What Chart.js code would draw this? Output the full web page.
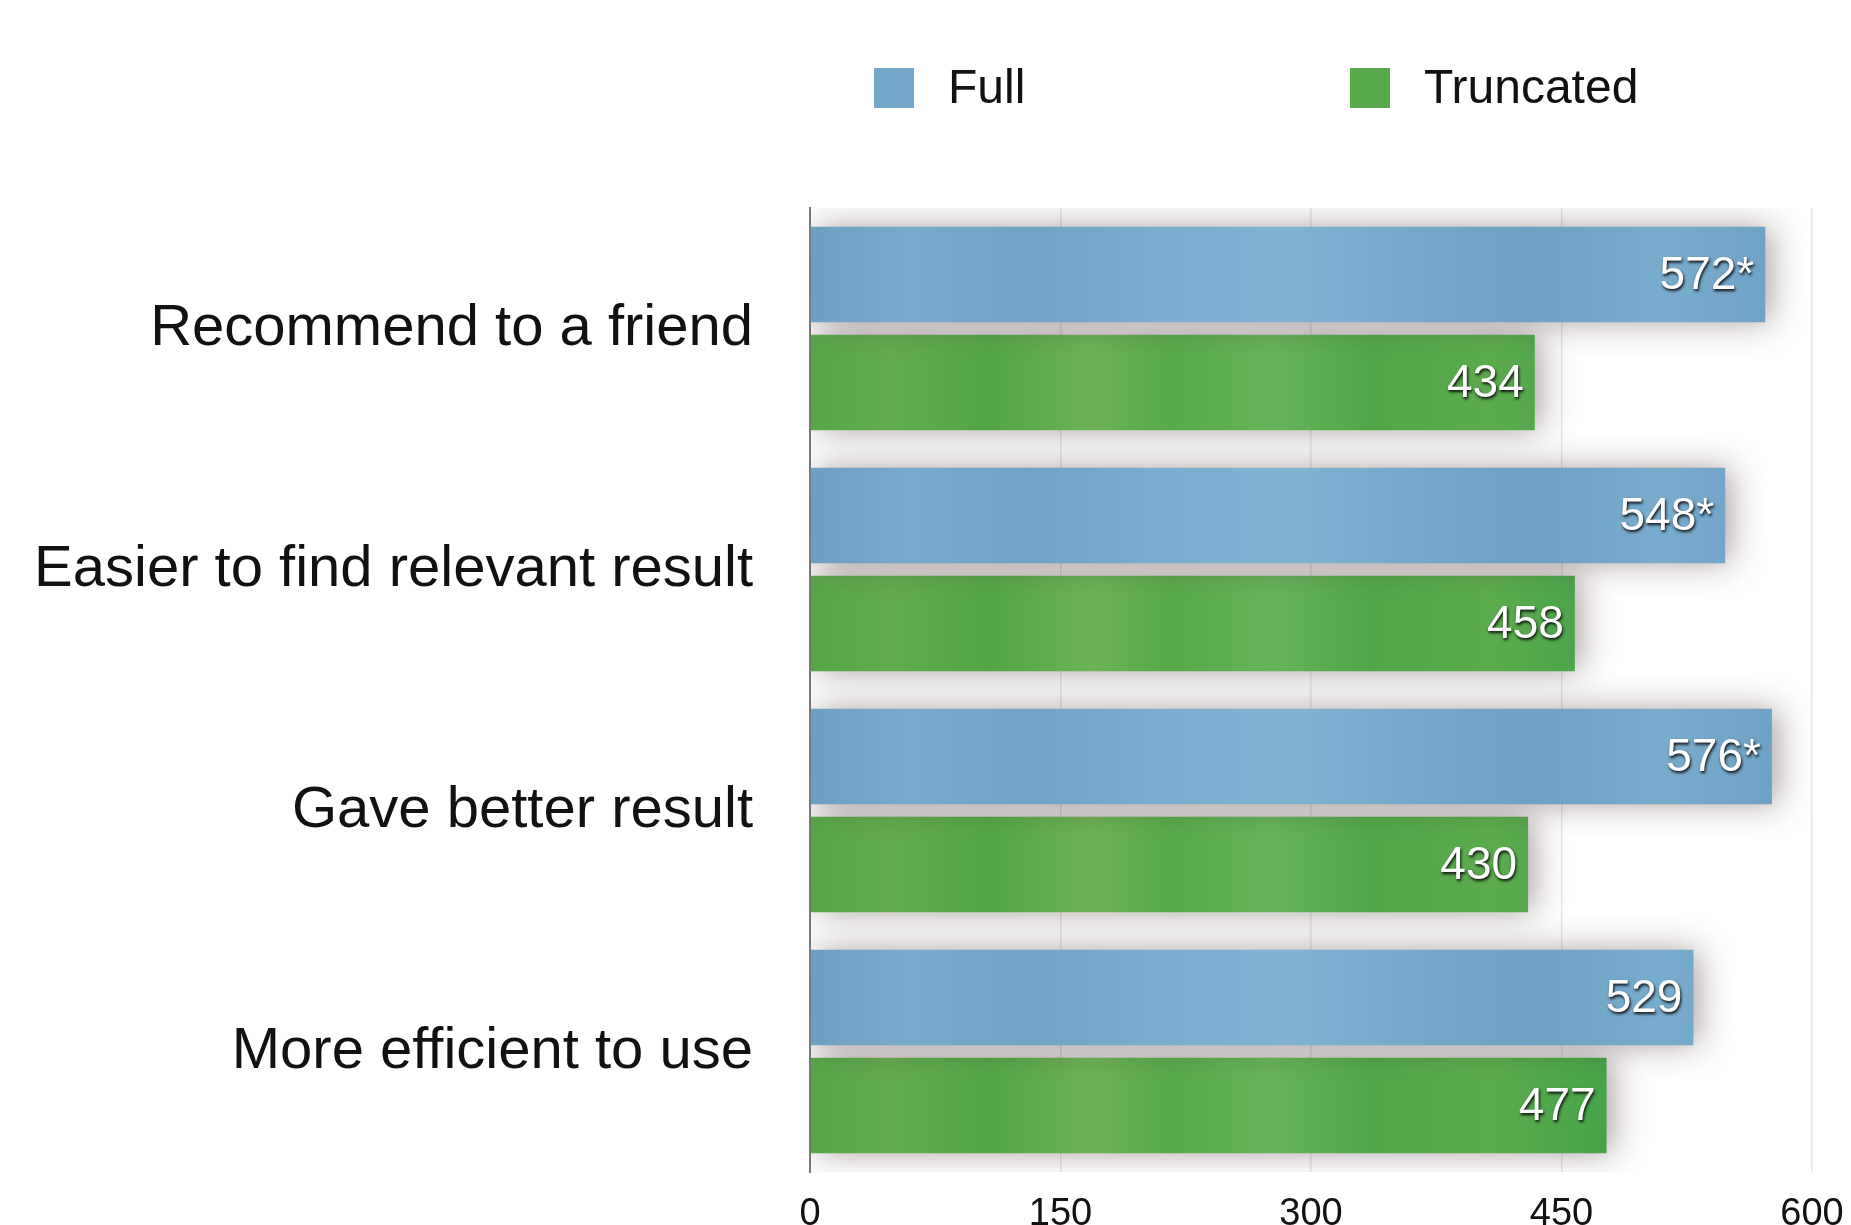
<!DOCTYPE html>
<html lang="en">
<head>
  <meta charset="UTF-8">
  <title>Full vs Truncated</title>
  <script src="https://cdn.jsdelivr.net/npm/chart.js"></script>
  <style>
    html, body {
      margin: 0;
      padding: 0;
      background: #ffffff;
      overflow: hidden;
    }
    canvas {
      display: block;
    }
  </style>
</head>
<body>
  <canvas id="myChart" width="1851" height="1225"></canvas>

  <script>
    const categories = ['Recommend to a friend', 'Easier to find relevant result', 'Gave better result', 'More efficient to use'];
    const seriesNames = ['Full', 'Truncated'];
    const fullValues = [572, 548, 576, 529];
    const truncatedValues = [434, 458, 430, 477];
    const fullMarks = ['*', '*', '*', ''];
    const truncatedMarks = ['', '', '', ''];
    const xTicks = [0, 150, 300, 450, 600];

    const FONT = '"Liberation Sans", Arial, Helvetica, sans-serif';

    // textured-looking fills, approximated with gradients across the plot
    function blueFill(chart) {
      const a = chart.chartArea;
      if (!a) return '#72a6c9';
      const g = chart.ctx.createLinearGradient(a.left, 0, a.right, 0);
      g.addColorStop(0.00, '#6c9fc4');
      g.addColorStop(0.10, '#77abcd');
      g.addColorStop(0.22, '#6fa3c7');
      g.addColorStop(0.35, '#79aed0');
      g.addColorStop(0.48, '#7fb3d2');
      g.addColorStop(0.60, '#74a9cb');
      g.addColorStop(0.72, '#6da1c5');
      g.addColorStop(0.85, '#78accd');
      g.addColorStop(1.00, '#6b9ec3');
      return g;
    }

    function greenFill(chart) {
      const a = chart.chartArea;
      if (!a) return '#55a94a';
      const g = chart.ctx.createLinearGradient(a.left, 0, a.right, 0);
      g.addColorStop(0.00, '#58a54a');
      g.addColorStop(0.08, '#62ab50');
      g.addColorStop(0.18, '#54a548');
      g.addColorStop(0.28, '#6cb157');
      g.addColorStop(0.36, '#58a94c');
      g.addColorStop(0.46, '#66b25a');
      g.addColorStop(0.56, '#52a64a');
      g.addColorStop(0.68, '#5cab4e');
      g.addColorStop(0.80, '#45a348');
      g.addColorStop(1.00, '#4ca84a');
      return g;
    }

    // soft drop shadow behind the bars
    const barShadow = {
      id: 'barShadow',
      beforeDatasetsDraw(chart) {
        const ctx = chart.ctx;
        ctx.save();
        ctx.shadowColor = 'rgba(70, 45, 45, 0.45)';
        ctx.shadowBlur = 32;
        ctx.shadowOffsetX = 6;
        ctx.shadowOffsetY = 0;
      },
      afterDatasetsDraw(chart) {
        chart.ctx.restore();
      }
    };

    // value labels inside the bar ends
    const valueLabels = {
      id: 'valueLabels',
      afterDatasetsDraw(chart) {
        const ctx = chart.ctx;
        const marks = [fullMarks, truncatedMarks];
        ctx.save();
        ctx.font = '46px ' + FONT;
        ctx.textAlign = 'right';
        ctx.textBaseline = 'middle';
        chart.data.datasets.forEach((ds, di) => {
          const meta = chart.getDatasetMeta(di);
          meta.data.forEach((bar, i) => {
            const txt = ds.data[i] + marks[di][i];
            ctx.shadowColor = 'rgba(0, 0, 0, 0.9)';
            ctx.shadowBlur = 3;
            ctx.shadowOffsetX = 1;
            ctx.shadowOffsetY = 2;
            ctx.fillStyle = '#ffffff';
            ctx.fillText(txt, bar.x - 11, bar.y + 2);
          });
        });
        ctx.restore();
      }
    };

    // legend laid out over the plot area
    const topLegend = {
      id: 'topLegend',
      afterDraw(chart) {
        const ctx = chart.ctx;
        const a = chart.chartArea;
        const starts = [a.left + 64, a.left + 540];
        const y = 88;
        ctx.save();
        ctx.font = '48px ' + FONT;
        ctx.textBaseline = 'middle';
        ctx.textAlign = 'left';
        chart.data.datasets.forEach((ds, i) => {
          const x = starts[i];
          ctx.fillStyle = i === 0 ? '#74a8cb' : '#56aa4b';
          ctx.fillRect(x, y - 20, 40, 40);
          ctx.fillStyle = '#111111';
          ctx.fillText(ds.label, x + 74, y + 2);
        });
        ctx.restore();
      }
    };

    const ctx = document.getElementById('myChart').getContext('2d');

    new Chart(ctx, {
      type: 'bar',
      data: {
        labels: categories,
        datasets: [
          {
            label: seriesNames[0],
            data: fullValues,
            backgroundColor: (c) => blueFill(c.chart),
            borderWidth: 0,
            categoryPercentage: 0.895,
            barPercentage: 0.885
          },
          {
            label: seriesNames[1],
            data: truncatedValues,
            backgroundColor: (c) => greenFill(c.chart),
            borderWidth: 0,
            categoryPercentage: 0.895,
            barPercentage: 0.885
          }
        ]
      },
      options: {
        indexAxis: 'y',
        responsive: false,
        animation: false,
        devicePixelRatio: 1,
        layout: {
          padding: { top: 208, right: 39, left: 0, bottom: 0 }
        },
        plugins: {
          legend: { display: false },
          tooltip: { enabled: false }
        },
        scales: {
          x: {
            min: 0,
            max: 600,
            afterBuildTicks(scale) {
              scale.ticks = xTicks.map(v => ({ value: v }));
            },
            afterFit(scale) {
              scale.height = 53;
              scale.paddingLeft = 0;
              scale.paddingRight = 0;
            },
            border: { display: false },
            grid: {
              drawTicks: false,
              color: (c) => c.tick && c.tick.value === 0 ? 'rgba(0,0,0,0)' : '#e6e6e6',
              lineWidth: 1.5
            },
            ticks: {
              padding: 20,
              color: '#111111',
              font: { family: FONT, size: 38 }
            }
          },
          y: {
            afterFit(scale) {
              scale.width = 810;
              scale.paddingTop = 0;
              scale.paddingBottom = 0;
            },
            border: { display: true, color: '#7a7a7a', width: 2 },
            grid: { display: false, drawTicks: false },
            ticks: {
              padding: 57,
              color: '#111111',
              font: { family: FONT, size: 58 }
            }
          }
        }
      },
      plugins: [barShadow, valueLabels, topLegend]
    });
  </script>
</body>
</html>
